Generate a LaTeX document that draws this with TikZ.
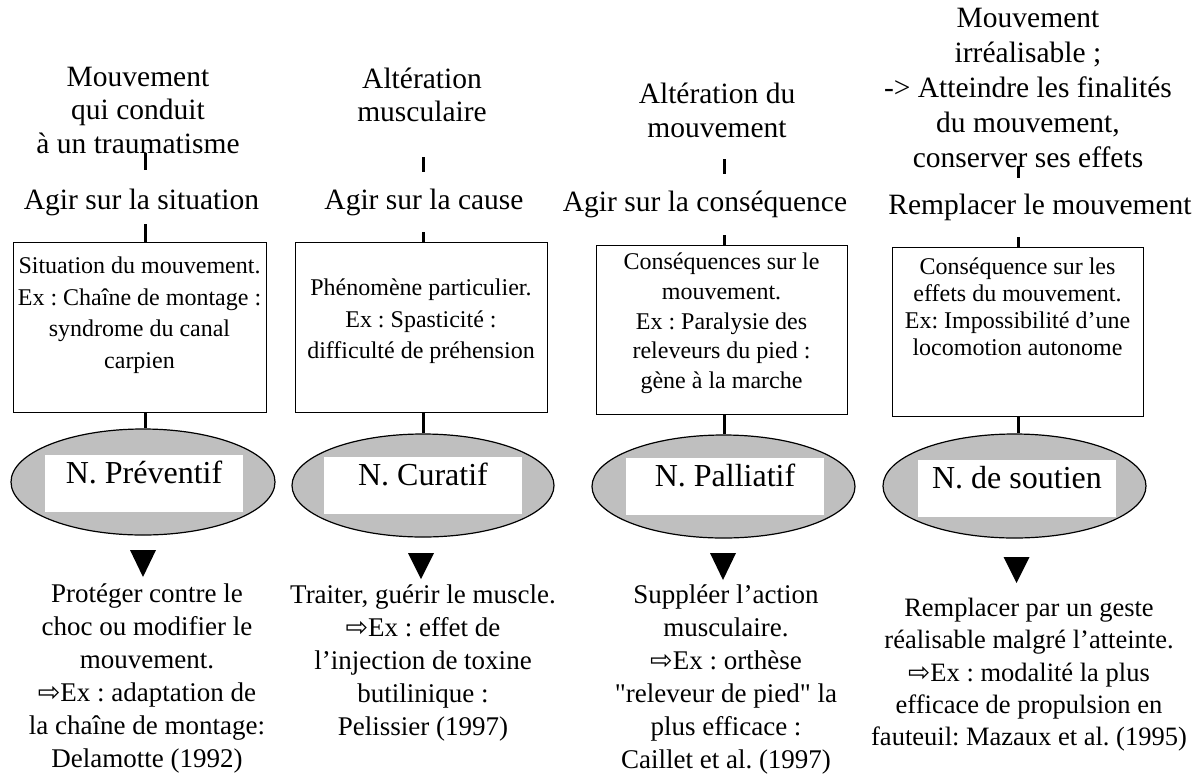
\documentclass[tikz,border=0pt]{standalone}
\usepackage{fontspec}
\setmainfont{Liberation Serif}[Ligatures=TeXOff]
\newfontfamily\symfont{DejaVu Sans}
\usetikzlibrary{shapes.geometric}
\frenchspacing
\newcommand\mystrut{\vrule width 0pt height 0.9em depth 0.22em}
\newcommand\darr{{\symfont ⇨}}
\begin{document}
\begin{tikzpicture}[x=1pt,y=-1pt,
  withstrut/.style={execute at begin node=\mystrut, execute at end node=\mystrut},
  toplabel/.style={withstrut, font=\fontsize{29.5}{#1}\selectfont, align=center, inner sep=0pt},
  actlabel/.style={withstrut, font=\fontsize{29.5}{33.5}\selectfont, inner sep=0pt, anchor=base},
  boxframe/.style={draw, line width=1pt, fill=white, inner sep=0pt},
  boxtext/.style={withstrut, font=\fontsize{24}{#1}\selectfont, align=center, inner sep=0pt},
  ell/.style={ellipse, draw, line width=1.2pt, fill=gray!50, inner sep=0pt},
  elllabel/.style={fill=white, minimum width=198pt, minimum height=57pt, text height=12pt, text depth=12pt, inner sep=0pt, font=\fontsize{32}{38}\selectfont},
  outtext/.style={withstrut, font=\fontsize{#1}{\dimexpr#1pt*122/100\relax}\selectfont, align=center, inner sep=0pt},
  tick/.style={line width=3pt},
  link/.style={line width=3pt},
  tri/.style={fill=black}
]
\useasboundingbox (0,0) rectangle (1197,780);

% ---------- top labels ----------
\node[toplabel=33.5] (T1) at (138,113.5) {Mouvement\\qui conduit\\à un traumatisme};
\node[toplabel=33.5] (T2) at (422,97.75) {Altération\\musculaire};
\node[toplabel=33.5] (T3) at (717,113.25) {Altération du\\mouvement};
\node[toplabel=35] (T4) at (1028,91) {Mouvement\\irréalisable ;\\-> Atteindre les finalités\\du mouvement,\\conserver ses effets};

% ---------- action labels ----------
\node[actlabel] (A1) at (141.5,209) {Agir sur la situation};
\node[actlabel] (A2) at (424,209) {Agir sur la cause};
\node[actlabel] (A3) at (705,211) {Agir sur la conséquence};
\node[actlabel] (A4) at (1040,214) {Remplacer le mouvement};

% ---------- boxes ----------
\node[boxframe, minimum width=253pt, minimum height=170pt] (B1) at (139.5,327) {};
\node[boxframe, minimum width=252pt, minimum height=170pt] (B2) at (421,327) {};
\node[boxframe, minimum width=251pt, minimum height=169pt] (B3) at (721.5,329.5) {};
\node[boxframe, minimum width=251pt, minimum height=169pt] (B4) at (1017.5,331.5) {};

\node[boxtext=31.5] (BT1) at (139.5,315.3) {Situation du mouvement.\\Ex : Chaîne de montage :\\syndrome du canal\\carpien};
\node[boxtext=31.5] (BT2) at (421,321.3) {Phénomène particulier.\\Ex : Spasticité :\\difficulté de préhension};
\node[boxtext=29.75] (BT3) at (721.5,323.3) {Conséquences sur le\\mouvement.\\Ex : Paralysie des\\releveurs du pied :\\gène à la marche};
\node[boxtext=27] (BT4) at (1017.5,308.8) {Conséquence sur les\\effets du mouvement.\\Ex: Impossibilité d’une\\locomotion autonome};

% ---------- ellipses ----------
\node[ell, minimum width=264pt, minimum height=106pt] (E1) at (143,482) {};
\node[ell, minimum width=262pt, minimum height=103pt] (E2) at (423,485.5) {};
\node[ell, minimum width=263pt, minimum height=103pt] (E3) at (723.5,486.5) {};
\node[ell, minimum width=263pt, minimum height=104pt] (E4) at (1014.5,486) {};

\node[elllabel] (L1) at (144,483.5) {N. Préventif};
\node[elllabel] (L2) at (423,485) {N. Curatif};
\node[elllabel] (L3) at (725,486.5) {N. Palliatif};
\node[elllabel] (L4) at (1017,488.5) {N. de soutien};

% ---------- tick coordinates ----------
\coordinate (k1a) at (145,153); \coordinate (k1b) at (145,170); \coordinate (k1c) at (145,224);
\coordinate (k2a) at (423,157); \coordinate (k2b) at (423,172); \coordinate (k2c) at (423,232);
\coordinate (k3a) at (724,159); \coordinate (k3b) at (724,174); \coordinate (k3c) at (724,235);
\coordinate (k4a) at (1018,166); \coordinate (k4b) at (1018,178); \coordinate (k4c) at (1018,237);

\draw[tick] (k1a) -- (k1b);
\draw[tick] (k1c) -- (k1c |- B1.north);
\draw[tick] (k2a) -- (k2b);
\draw[tick] (k2c) -- (k2c |- B2.north);
\draw[tick] (k3a) -- (k3b);
\draw[tick] (k3c) -- (k3c |- B3.north);
\draw[tick] (k4a) -- (k4b);
\draw[tick] (k4c) -- (k4c |- B4.north);

% ---------- box to ellipse links ----------
\draw[link] (k1c |- B1.south) -- (k1c |- E1.north);
\draw[link] (k2c |- B2.south) -- (k2c |- E2.north);
\draw[link] (k3c |- B3.south) -- (k3c |- E3.north);
\draw[link] (k4c |- B4.south) -- (k4c |- E4.north);

% ---------- triangles ----------
\fill[tri] (130,550) -- (156,550) -- (143,577) -- cycle;
\fill[tri] (408,553) -- (434,553) -- (421,579) -- cycle;
\fill[tri] (710,553) -- (736,553) -- (723,580) -- cycle;
\fill[tri] (1003.5,557) -- (1029.5,557) -- (1016.5,583) -- cycle;

% ---------- outcome texts ----------
\node[outtext=27] (O1) at (147,678.3) {Protéger contre le\\choc ou modifier le\\mouvement.\\\darr Ex : adaptation de\\la chaîne de montage:\\Delamotte (1992)};
\node[outtext=27] (O2) at (423,662.8) {Traiter, guérir le muscle.\\\darr Ex : effet de\\l’injection de toxine\\butilinique :\\Pelissier (1997)};
\node[outtext=27] (O3) at (726,679.3) {Suppléer l’action\\musculaire.\\\darr Ex : orthèse\\"releveur de pied" la\\plus efficace :\\Caillet et al. (1997)};
\node[outtext=26.5] (O4) at (1029,675) {Remplacer par un geste\\réalisable malgré l’atteinte.\\\darr Ex : modalité la plus\\efficace de propulsion en\\fauteuil: Mazaux et al. (1995)};
\end{tikzpicture}
\end{document}
